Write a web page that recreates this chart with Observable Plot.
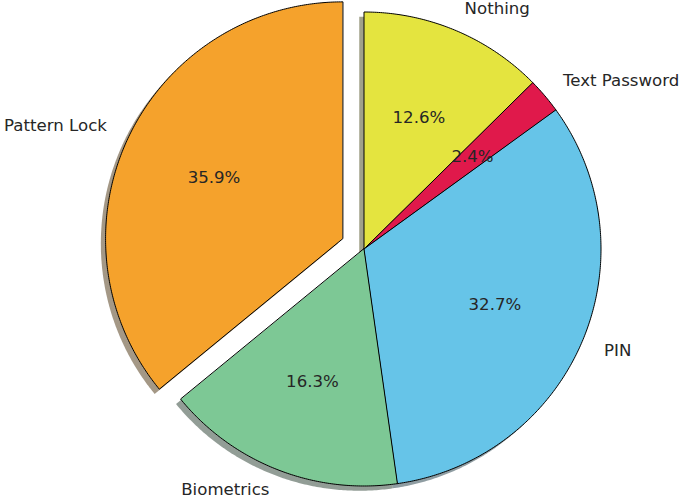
<!DOCTYPE html>
<html>
<head>
<meta charset="utf-8">
<script src="https://cdn.jsdelivr.net/npm/d3@7"></script>
<script src="https://cdn.jsdelivr.net/npm/@observablehq/plot@0.6"></script>
<style>
  html, body { margin: 0; padding: 0; background: #ffffff; }
  #chart { width: 685px; height: 498px; }
</style>
</head>
<body>
<div id="chart"></div>
<script>
// ---- data ----
const labels = ["Nothing", "Text Password", "PIN", "Biometrics", "Pattern Lock"];
const values = [12.6, 2.4, 32.7, 16.3, 35.9];
const colors = ["#E4E43F", "#E0194B", "#66C4E8", "#7DC895", "#F5A22C"];
const explode = [0, 0, 0, 0, 0.1];

// ---- geometry derived from data (clockwise from top) ----
const total = d3.sum(values);
const shadowOffset = 0.02;
const slices = [];
let acc = 0;
values.forEach((v, i) => {
  const a0 = acc / total * 2 * Math.PI;
  acc += v;
  const a1 = acc / total * 2 * Math.PI;
  const mid = (a0 + a1) / 2;
  const ox = explode[i] * Math.sin(mid);
  const oy = explode[i] * Math.cos(mid);
  slices.push({label: labels[i], value: v, color: colors[i], a0, a1, mid, ox, oy});
});

function outline(s, dx, dy) {
  const pts = [{x: s.ox + dx, y: s.oy + dy}];
  const n = Math.max(2, Math.ceil((s.a1 - s.a0) / (Math.PI / 360)));
  for (let k = 0; k <= n; k++) {
    const a = s.a0 + (s.a1 - s.a0) * k / n;
    pts.push({x: s.ox + dx + Math.sin(a), y: s.oy + dy + Math.cos(a)});
  }
  return pts;
}

const wedgePts = slices.flatMap(s => outline(s, 0, 0).map(p => ({...p, slice: s.label, color: s.color})));
const shadowPts = slices.flatMap(s => {
  const c = d3.rgb(s.color);
  const dark = d3.rgb(c.r * 0.3, c.g * 0.3, c.b * 0.3).formatHex();
  return outline(s, -shadowOffset, -shadowOffset).map(p => ({...p, slice: s.label, color: dark}));
});

const pctText = slices.map(s => ({
  x: s.ox + 0.6 * Math.sin(s.mid),
  y: s.oy + 0.6 * Math.cos(s.mid),
  text: s.value.toFixed(1) + "%"
}));
const labelText = slices.map(s => ({
  x: s.ox + 1.1 * Math.sin(s.mid),
  y: s.oy + 1.1 * Math.cos(s.mid),
  text: s.label,
  anchor: Math.sin(s.mid) >= 0 ? "start" : "end"
}));

const W = 685, H = 498, R = 237, CX = 363.5, CY = 248.5;

const chart = Plot.plot({
  width: W,
  height: H,
  margin: 0,
  style: {background: "#ffffff", fontFamily: "DejaVu Sans, sans-serif", overflow: "visible"},
  x: {domain: [-CX / R, (W - CX) / R], axis: null},
  y: {domain: [-(H - CY) / R, CY / R], axis: null},
  color: {type: "identity"},
  marks: [
    Plot.line(shadowPts, {x: "x", y: "y", z: "slice", fill: "color", fillOpacity: 0.5, stroke: "none", curve: "linear-closed"}),
    Plot.line(wedgePts, {x: "x", y: "y", z: "slice", fill: "color", stroke: "#000000", strokeWidth: 1, strokeLinejoin: "miter", curve: "linear-closed"}),
    Plot.text(pctText, {x: "x", y: "y", text: "text", fontSize: 16.6, fill: "#262626", textAnchor: "middle", lineAnchor: "middle"}),
    Plot.text(labelText.filter(d => d.anchor === "start"), {x: "x", y: "y", text: "text", fontSize: 16.6, fill: "#262626", textAnchor: "start", lineAnchor: "middle"}),
    Plot.text(labelText.filter(d => d.anchor === "end"), {x: "x", y: "y", text: "text", fontSize: 16.6, fill: "#262626", textAnchor: "end", lineAnchor: "middle", dy: -2})
  ]
});
document.getElementById("chart").appendChild(chart);
</script>
</body>
</html>
